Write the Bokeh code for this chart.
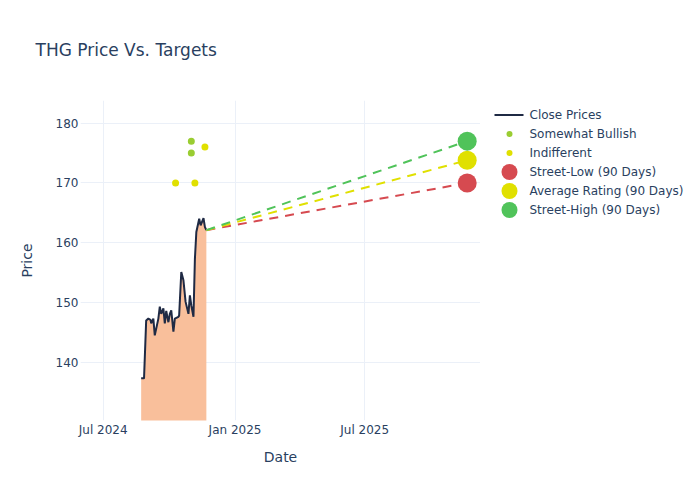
import pandas as pd
from bokeh.plotting import figure
from bokeh.layouts import row
from bokeh.models import Range1d, FixedTicker, DatetimeTickFormatter
from bokeh.core.properties import value
from bokeh.embed import file_html
from bokeh.resources import INLINE

# ---- data ----
close_dates = ["2024-08-23", "2024-08-27", "2024-08-30", "2024-09-02", "2024-09-05",
               "2024-09-06", "2024-09-09", "2024-09-11", "2024-09-16", "2024-09-18",
               "2024-09-20", "2024-09-23", "2024-09-25", "2024-09-27", "2024-09-30",
               "2024-10-02", "2024-10-04", "2024-10-07", "2024-10-09", "2024-10-14",
               "2024-10-15", "2024-10-18", "2024-10-21", "2024-10-24", "2024-10-28",
               "2024-10-30", "2024-11-01", "2024-11-04", "2024-11-06", "2024-11-08",
               "2024-11-12", "2024-11-14", "2024-11-18", "2024-11-20", "2024-11-22"]
close_prices = [137.3, 137.3, 147.0, 147.3, 147.1,
                146.5, 147.3, 144.5, 147.3, 149.3,
                148.1, 149.0, 146.5, 148.6, 146.7,
                148.1, 148.7, 145.1, 147.3, 147.6,
                147.8, 155.1, 153.7, 150.1, 148.1,
                151.2, 149.5, 147.6, 157.3, 161.8,
                164.0, 162.9, 164.1, 162.6, 162.1]

bullish_dates = ["2024-11-01", "2024-11-01"]
bullish_targets = [177, 175]
indifferent_dates = ["2024-10-10", "2024-11-06", "2024-11-20"]
indifferent_targets = [170, 170, 176]

target_date = "2025-11-21"
street_low = 170.0
average_rating = 173.8
street_high = 177.0

x_ticks = ["2024-07-01", "2025-01-01", "2025-07-01"]
y_ticks = [140, 150, 160, 170, 180]

legend_labels = ["Close Prices", "Somewhat Bullish", "Indifferent",
                 "Street-Low (90 Days)", "Average Rating (90 Days)", "Street-High (90 Days)"]

TEXT = "#2a3f5f"
FONT = "DejaVu Sans"
GRID = "#ebf0f8"
C_LINE = "#1f2a44"
C_BULL = "#9acd32"
C_IND = "#e0e000"
C_LOW = "#d64a50"
C_AVG = "#e0e000"
C_HIGH = "#50c35a"

cd = pd.to_datetime(close_dates)
td = pd.Timestamp(target_date)

TOP, BOTTOM = 100, 80

p = figure(width=480, height=500, output_backend="svg", toolbar_location=None,
           x_axis_type="datetime",
           x_range=Range1d(pd.Timestamp("2024-05-30 08:00"), pd.Timestamp("2025-12-09 14:00")),
           y_range=Range1d(130.25, 183.8),
           min_border_left=80, min_border_right=0, min_border_top=TOP, min_border_bottom=BOTTOM,
           title="THG Price Vs. Targets")
p.outline_line_color = None
p.background_fill_color = "white"
p.border_fill_color = "white"

p.title.text_font = FONT
p.title.text_font_size = "17px"
p.title.text_font_style = "normal"
p.title.text_color = TEXT
p.title.align = "left"
p.title.vertical_align = "top"
p.title.offset = -45
p.title.standoff = 78

# area + close line
p.varea(x=cd, y1=0, y2=close_prices, fill_color="#f9bf9b", fill_alpha=1.0)
p.line(cd, close_prices, line_color=C_LINE, line_width=2)

# dashed projection lines
last_d = cd[-1]
last_p = close_prices[-1]
for val, col in [(street_low, C_LOW), (average_rating, C_AVG), (street_high, C_HIGH)]:
    p.line([last_d, td], [last_p, val], line_color=col, line_width=2, line_dash="9 7")

p.scatter(pd.to_datetime(bullish_dates), bullish_targets, size=7, fill_color=C_BULL, line_color=None)
p.scatter(pd.to_datetime(indifferent_dates), indifferent_targets, size=7, fill_color=C_IND, line_color=None)
p.scatter([td], [street_low], size=19, fill_color=C_LOW, line_color=None)
p.scatter([td], [average_rating], size=19, fill_color=C_AVG, line_color=None)
p.scatter([td], [street_high], size=19, fill_color=C_HIGH, line_color=None)

# axes
xax = p.below[0]
yax = p.left[0]
xax.ticker = FixedTicker(ticks=[pd.Timestamp(t).value // 10**6 for t in x_ticks])
xax.formatter = DatetimeTickFormatter(days="%b %Y", months="%b %Y", years="%b %Y")
yax.ticker = FixedTicker(ticks=y_ticks)
for ax in (xax, yax):
    ax.axis_line_color = None
    ax.major_tick_line_color = None
    ax.minor_tick_line_color = None
    ax.major_tick_out = 0
    ax.major_tick_in = 0
    ax.minor_tick_out = 0
    ax.major_label_text_font = FONT
    ax.major_label_text_font_size = "12px"
    ax.major_label_text_color = TEXT
    ax.axis_label_text_font = FONT
    ax.axis_label_text_font_size = "14px"
    ax.axis_label_text_font_style = "normal"
    ax.axis_label_text_color = TEXT
xax.axis_label = "Date"
yax.axis_label = "Price"
xax.major_label_standoff = 2
yax.major_label_standoff = 2
xax.axis_label_standoff = 9
yax.axis_label_standoff = 18

p.xgrid.grid_line_color = GRID
p.ygrid.grid_line_color = GRID

# ---- legend panel (separate figure; its frame lines up with the chart's frame,
#      coordinates are pixels from the top-left of the page) ----
lg = figure(width=220, height=500, output_backend="svg", toolbar_location=None,
            x_range=Range1d(0, 220), y_range=Range1d(500 - BOTTOM, TOP),
            x_axis_location=None, y_axis_location=None,
            min_border_left=0, min_border_right=0, min_border_top=TOP, min_border_bottom=BOTTOM)
lg.outline_line_color = None
lg.grid.visible = False
lg.background_fill_color = "white"
lg.border_fill_color = "white"

item_y = [114.5 + 19 * i for i in range(len(legend_labels))]
glyph_x = 29
lg.line([14, 43], [item_y[0], item_y[0]], line_color=C_LINE, line_width=2)
lg.scatter([glyph_x, glyph_x], [item_y[1], item_y[2]], size=6, fill_color=[C_BULL, C_IND], line_color=None)
lg.scatter([glyph_x] * 3, item_y[3:], size=16, fill_color=[C_LOW, C_AVG, C_HIGH], line_color=None)
lg.text([49] * len(legend_labels), item_y, text=legend_labels,
        text_font=value(FONT), text_font_size="12px", text_color=TEXT,
        text_baseline="middle", text_align="left")

layout = row(p, lg, spacing=0)
open("out.html", "w").write(file_html(layout, INLINE))
